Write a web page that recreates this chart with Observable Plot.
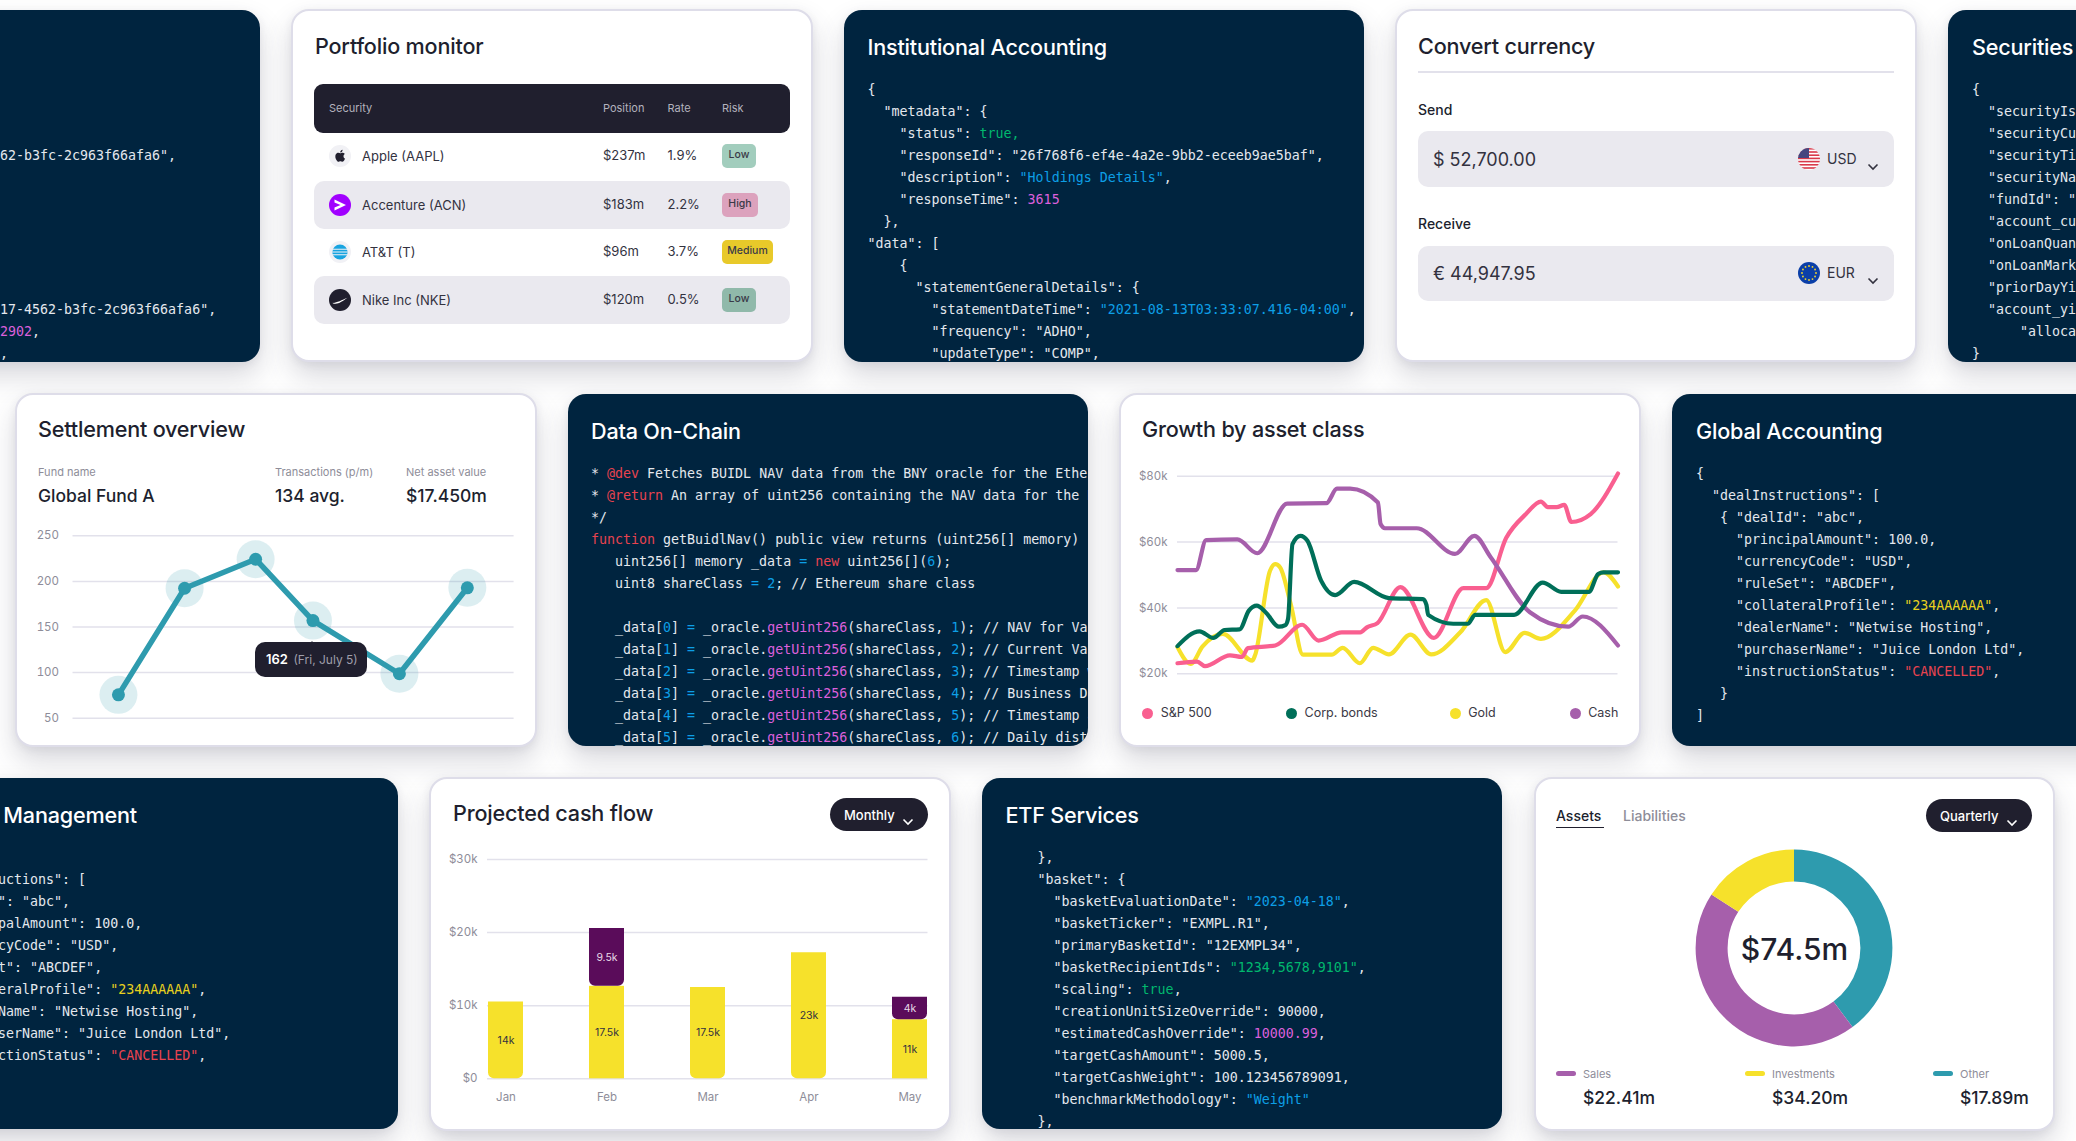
<!DOCTYPE html>
<html><head><meta charset="utf-8">
<script src="https://cdn.jsdelivr.net/npm/d3@7"></script>
<script src="https://cdn.jsdelivr.net/npm/@observablehq/plot@0.6"></script>
<style>
html,body{margin:0;padding:0;background:#fff;width:2076px;height:1141px;overflow:hidden}
#root{position:relative;width:2076px;height:1141px;overflow:hidden;font-family:Inter,"Noto Sans",sans-serif;color:#201f2e}
.card{position:absolute;box-sizing:border-box;border-radius:18px;overflow:hidden;box-shadow:0 14px 28px rgba(60,60,85,.20),0 2px 8px rgba(60,60,85,.08)}
.light{background:#fff;border:2px solid #dedde9}
.dark{background:#00243f}
.t{position:absolute;white-space:nowrap;line-height:1}
.box{position:absolute}
pre.code{position:absolute;margin:0;font:13.3px/22px "DejaVu Sans Mono",monospace;color:#e4e8ee;white-space:pre}
x-r{color:#e8434f}x-b{color:#0d9fe6}x-p{color:#dc60dc}x-g{color:#00b86e}x-y{color:#e8d01e}
svg{overflow:visible}
</style></head><body><div id="root"></div>
<script>
// ---------- data ----------
const settleDay = [10.3, 25.3, 41.4, 54.4, 74, 89.4];
const settleVal = [75.6, 192.5, 224.3, 157, 98.7, 193];
const settleTicks = [50, 100, 150, 200, 250];

const spX   = [0,4.46,6.24,11.9,14.6,16,22.2,28.3,32,37.3,41.5,43,45.4,50.6,58.2,64.9,70.1,74.6,79.1,82.5,84.1,86.1,87.8,89.4,93.8,100];
const spV   = [23.2,23.7,22.3,25.6,25.1,27.8,28.6,34.9,30.1,32.6,32.6,34.1,35.4,46.3,30.9,46,46,61.2,68.5,72.3,70.6,70.6,71.3,66.1,68.5,80.8];
const bondX = [0,5,8.1,10.7,14.1,16.2,18,20,23,24.5,25.1,26.1,27.9,29.5,32.6,35.8,40.1,48,55.7,56.5,56.9,62.6,65.9,67.6,76.4,82.9,87.1,93.4,95.5,96.7,100];
const bondV = [28.4,32.9,30.9,33.3,33.5,39.2,40.7,38.7,34.3,34.8,36.7,59.4,61.9,60.4,48.3,43.9,47.9,43,42.7,41,37.9,35.2,35.2,37.9,37.9,47.7,44.9,44.9,50.3,50.8,50.8];
const goldX = [0,3,5.7,10.3,17,17.6,21,22.2,23.3,25.7,28.5,35,37.5,41.4,44.4,48,52.9,57.6,64.2,70.1,74.4,78.8,82.5,90.2,96.7,100];
const goldV = [28.1,23,28.3,32.1,24,25.6,51.3,53.3,52.3,41.2,25.8,25.8,27.9,23.2,27.9,25.9,31.9,25.9,32.6,42.4,26.6,32.4,30.6,39.2,50.8,46.5];
const cashX = [0,4.2,6.5,13.6,18.1,24.9,33.8,36.2,39.2,45.5,46.1,47.1,54.3,63,67.4,71.1,80,88.7,92,100];
const cashV = [51.5,51.5,60.6,60.8,56.6,71.7,71.8,76.2,76.2,72,65.5,64.2,64.2,56.4,61.9,55.4,38.7,34.3,37.4,28.6];
const growthTicks = [20, 40, 60, 80];

const months = ["Jan","Feb","Mar","Apr","May"];
const flowYellow = [10.5, 12.65, 12.5, 17.26, 8.08];
const flowPurple = [0, 7.9, 0, 0, 3.06];
const flowYellowLabel = ["14k","17.5k","17.5k","23k","11k"];
const flowPurpleLabel = ["","9.5k","","","4k"];
const flowTicks = [0, 10, 20, 30];

const sliceNames = ["Other","Sales","Investments"];
const sliceValues = [29.7, 33.0, 11.8];
const sliceColors = ["#2e9bae","#a65fab","#f6e12b"];

const securities = ["Apple (AAPL)","Accenture (ACN)","AT&T (T)","Nike Inc (NKE)"];
const positions = ["$237m","$183m","$96m","$120m"];
const rates = ["1.9%","2.2%","3.7%","0.5%"];
const risks = ["Low","High","Medium","Low"];

const codeLeft = `


62-b3fc-2c963f66afa6",






17-4562-b3fc-2c963f66afa6",
<x-p>2902</x-p>,
,`;
const codeInstitutional = `{
  "metadata": {
    "status": <x-g>true,</x-g>
    "responseId": "26f768f6-ef4e-4a2e-9bb2-eceeb9ae5baf",
    "description": <x-b>"Holdings Details"</x-b>,
    "responseTime": <x-p>3615</x-p>
  },
"data": [
    {
      "statementGeneralDetails": {
        "statementDateTime": <x-b>"2021-08-13T03:33:07.416-04:00"</x-b>,
        "frequency": "ADHO",
        "updateType": "COMP",`;
const codeSecurities = `{
  "securityIsin
  "securityCusip
  "securityTicker
  "securityName
  "fundId": "
  "account_cust
  "onLoanQuant
  "onLoanMarket
  "priorDayYield
  "account_yield
      "allocation
}`;
const codeChain = `* <x-r>@dev</x-r> Fetches BUIDL NAV data from the BNY oracle for the Ethereum
* <x-r>@return</x-r> An array of uint256 containing the NAV data for the BUIDL
*/
<x-r>function</x-r> getBuidlNav() public view returns (uint256[] memory) {
   uint256[] memory _data <x-b>=</x-b> <x-r>new</x-r> uint256[](<x-b>6</x-b>);
   uint8 shareClass <x-b>=</x-b> <x-b>2</x-b>; // Ethereum share class

   _data[<x-b>0</x-b>] <x-b>=</x-b> _oracle.<x-p>getUint256</x-p>(shareClass, <x-b>1</x-b>); // NAV for Value
   _data[<x-b>1</x-b>] <x-b>=</x-b> _oracle.<x-p>getUint256</x-p>(shareClass, <x-b>2</x-b>); // Current Value
   _data[<x-b>2</x-b>] <x-b>=</x-b> _oracle.<x-p>getUint256</x-p>(shareClass, <x-b>3</x-b>); // Timestamp when
   _data[<x-b>3</x-b>] <x-b>=</x-b> _oracle.<x-p>getUint256</x-p>(shareClass, <x-b>4</x-b>); // Business Date
   _data[<x-b>4</x-b>] <x-b>=</x-b> _oracle.<x-p>getUint256</x-p>(shareClass, <x-b>5</x-b>); // Timestamp at
   _data[<x-b>5</x-b>] <x-b>=</x-b> _oracle.<x-p>getUint256</x-p>(shareClass, <x-b>6</x-b>); // Daily dist`;
const codeDeal = `{
  "dealInstructions": [
   { "dealId": "abc",
     "principalAmount": 100.0,
     "currencyCode": "USD",
     "ruleSet": "ABCDEF",
     "collateralProfile": <x-y>"234AAAAAA"</x-y>,
     "dealerName": "Netwise Hosting",
     "purchaserName": "Juice London Ltd",
     "instructionStatus": <x-r>"CANCELLED"</x-r>,
   }
]`;
const codeEtf = `    },
    "basket": {
      "basketEvaluationDate": <x-b>"2023-04-18"</x-b>,
      "basketTicker": "EXMPL.R1",
      "primaryBasketId": "12EXMPL34",
      "basketRecipientIds": <x-g>"1234,5678,9101"</x-g>,
      "scaling": <x-g>true</x-g>,
      "creationUnitSizeOverride": 90000,
      "estimatedCashOverride": <x-p>10000.99</x-p>,
      "targetCashAmount": 5000.5,
      "targetCashWeight": 100.123456789091,
      "benchmarkMethodology": <x-b>"Weight"</x-b>
    },`;

// ---------- helpers ----------
const root = document.getElementById("root");
const INK = "#201f2e", GREY = "#8e8d99", PALE = "#eae9ef", RULE = "#e2e1eb";
const TITLE_SIZE = 21.6, FONT = 'Inter,"Noto Sans",sans-serif';

function txt(parent, x, cy, s, size, o = {}) {
  const d = document.createElement("div");
  d.className = "t";
  d.textContent = s;
  d.style.cssText = `left:${x}px;top:${cy - size / 2}px;font-size:${size}px;color:${o.color || INK};font-weight:${o.weight || 400};letter-spacing:${o.ls || 0}px`;
  parent.appendChild(d);
  return d;
}
function box(parent, x, y, w, h, bg, r = 0) {
  const d = document.createElement("div");
  d.className = "box";
  d.style.cssText = `left:${x}px;top:${y}px;width:${w}px;height:${h}px;background:${bg};border-radius:${r}px`;
  parent.appendChild(d);
  return d;
}
function card(x, y, w, h, kind) {
  const d = document.createElement("div");
  d.className = "card " + kind;
  d.style.cssText = `left:${x}px;top:${y}px;width:${w}px;height:${h}px`;
  root.appendChild(d);
  return d;
}
function darkCard(x, y, w, h, title, textX, code) {
  const c = card(x, y, w, h, "dark");
  if (title) txt(c, textX - x, 37.5, title, TITLE_SIZE, {color:"#fff", weight:500, ls:-.2});
  const p = document.createElement("pre");
  p.className = "code";
  p.style.left = (textX - x) + "px";
  p.style.top = "69px";
  p.innerHTML = code;
  c.appendChild(p);
}
function icon(x, y, w, h, inner) {
  const d = document.createElement("div");
  d.className = "box";
  d.style.cssText = `left:${x}px;top:${y}px;width:${w}px;height:${h}px`;
  d.innerHTML = inner;
  root.appendChild(d);
}
const chev = (x, y, c) => icon(x, y, 12, 8, `<svg width="12" height="8" viewBox="0 0 12 8"><path d="M1.5 1.5 6 6l4.5-4.5" fill="none" stroke="${c}" stroke-width="1.6"/></svg>`);
function pill(x, y, w, h, s, tx) {
  box(root, x, y, w, h, INK, h / 2);
  txt(root, tx, y + h / 2 + .5, s, 13, {color:"#fff", weight:500});
  chev(x + w - 26, y + h / 2 - 5, "#fff");
}
function mount(plot, x, y) {
  plot.style.position = "absolute";
  plot.style.left = x + "px";
  plot.style.top = y + "px";
  root.appendChild(plot);
  return plot;
}
const plotStyle = {background:"transparent", fontFamily:FONT, fontSize:"11.5px", color:GREY, overflow:"visible"};

// ---------- row 1 ----------
darkCard(-262, 10, 522, 352, "", 0, codeLeft);

card(291, 9, 522, 353, "light");
txt(root, 315, 46.5, "Portfolio monitor", TITLE_SIZE, {weight:500, ls:-.2});
box(root, 314, 84, 476, 49, INK, 9);
txt(root, 329, 108, "Security", 11, {color:"#b3b2bd"});
txt(root, 603, 108, "Position", 11, {color:"#b3b2bd"});
txt(root, 667.5, 108, "Rate", 11, {color:"#b3b2bd"});
txt(root, 722, 108, "Risk", 11, {color:"#b3b2bd"});
box(root, 314, 181, 476, 47.5, PALE, 10);
box(root, 314, 276, 476, 48, PALE, 10);
const rowY = [156, 204.5, 252, 300];
const riskBg = ["#a2cdbd","#dca2bd","#e8c92a","#90b9aa"];
const riskW = [34, 36, 51, 34];
securities.forEach((s, i) => {
  txt(root, 362, rowY[i] + .5, s, 13, {color:"#33323f"});
  txt(root, 603, rowY[i] - .5, positions[i], 13, {color:"#33323f"});
  txt(root, 667.5, rowY[i] - .5, rates[i], 13, {color:"#33323f"});
  box(root, 722, rowY[i] - 12, riskW[i], 24, riskBg[i], 5);
  const l = txt(root, 722, rowY[i] - .5, risks[i], 10.5, {color:"#3a3a48", weight:500});
  l.style.width = riskW[i] + "px"; l.style.textAlign = "center";
});
icon(329, 145, 22, 22, `<svg width="22" height="22" viewBox="0 0 22 22"><circle cx="11" cy="11" r="11" fill="#f1f1f5"/><g transform="translate(5.2 4.8) scale(.5)"><path fill="#201f2e" d="M12.152 6.896c-.948 0-2.415-1.078-3.96-1.04-2.04.027-3.91 1.183-4.961 3.014-2.117 3.675-.546 9.103 1.519 12.09 1.013 1.454 2.208 3.09 3.792 3.039 1.52-.065 2.09-.987 3.935-.987 1.831 0 2.35.987 3.96.948 1.637-.026 2.676-1.48 3.676-2.948 1.156-1.688 1.636-3.325 1.662-3.415-.039-.013-3.182-1.221-3.22-4.857-.026-3.04 2.48-4.494 2.597-4.559-1.429-2.09-3.623-2.324-4.39-2.376-2-.156-3.675 1.09-4.61 1.09zM15.53 3.83c.843-1.012 1.4-2.427 1.245-3.83-1.207.052-2.662.805-3.532 1.818-.78.896-1.454 2.338-1.273 3.714 1.338.104 2.715-.688 3.559-1.701"/></g></svg>`);
icon(329, 193.5, 22, 22, `<svg width="22" height="22" viewBox="0 0 22 22"><circle cx="11" cy="11" r="11" fill="#a100ff"/><path d="M5.5 5.5 17 11 5.5 16.5v-3l6-2.5-6-2.5z" fill="#fff"/></svg>`);
icon(329, 241, 22, 22, `<svg width="22" height="22" viewBox="0 0 22 22"><circle cx="11" cy="11" r="11" fill="#f1f1f5"/><circle cx="11" cy="11" r="7.6" fill="#18a4e0"/><path d="M3.5 8.2h15M3.2 11h15.6M3.6 13.8h14.8" stroke="#f1f1f5" stroke-width="1.1"/></svg>`);
icon(329, 289, 22, 22, `<svg width="22" height="22" viewBox="0 0 22 22"><circle cx="11" cy="11" r="11" fill="#201f2e"/><path d="M3.8 13.8c2.3.7 9-2.5 14.6-5-4.2 3-8.8 6.2-12 6-2 0-3-.4-2.6-1z" fill="#fff"/></svg>`);

darkCard(844, 10, 520, 352, "Institutional Accounting", 867.5, codeInstitutional);

card(1395, 9, 522, 353, "light");
txt(root, 1418, 46.5, "Convert currency", TITLE_SIZE, {weight:500, ls:-.2});
box(root, 1418, 71, 476, 1.5, RULE);
txt(root, 1418, 110, "Send", 14, {weight:500});
box(root, 1418, 131, 476, 56, PALE, 10);
txt(root, 1433, 160, "$ 52,700.00", 18, {color:"#33323f"});
txt(root, 1827, 159, "USD", 14, {color:"#33323f"});
chev(1867, 155, "#33323f");
txt(root, 1418, 224, "Receive", 14, {weight:500});
box(root, 1418, 246, 476, 55, PALE, 10);
txt(root, 1433, 274, "€ 44,947.95", 18, {color:"#33323f"});
txt(root, 1827, 273, "EUR", 14, {color:"#33323f"});
chev(1867, 269, "#33323f");
const stripes = [0,1,2,3,4,5,6].map(i => `<rect x="0" y="${i * 3.2}" width="22" height="1.6" fill="#d93a4b"/>`).join("");
icon(1798, 148, 22, 22, `<svg width="22" height="22" viewBox="0 0 22 22"><defs><clipPath id="cf"><circle cx="11" cy="11" r="11"/></clipPath></defs><g clip-path="url(#cf)"><rect width="22" height="22" fill="#fff"/>${stripes}<rect width="11" height="10" fill="#46467f"/></g></svg>`);
const stars = d3.range(12).map(i => `<circle cx="${11 + 7 * Math.sin(i * Math.PI / 6)}" cy="${11 - 7 * Math.cos(i * Math.PI / 6)}" r=".9" fill="#f6d92b"/>`).join("");
icon(1798, 262, 22, 22, `<svg width="22" height="22" viewBox="0 0 22 22"><circle cx="11" cy="11" r="11" fill="#0b3fa8"/>${stars}</svg>`);

darkCard(1948, 10, 522, 352, "Securities", 1972, codeSecurities);

// ---------- row 2 ----------
card(15, 393, 522, 354, "light");
txt(root, 38, 430, "Settlement overview", TITLE_SIZE, {weight:500, ls:-.2});
txt(root, 38, 472.5, "Fund name", 11, {color:GREY});
txt(root, 275, 472.5, "Transactions (p/m)", 11, {color:GREY});
txt(root, 406, 472.5, "Net asset value", 11, {color:GREY});
txt(root, 38, 496, "Global Fund A", 17.5, {weight:500});
txt(root, 275, 496, "134 avg.", 17.5, {weight:500});
txt(root, 406, 496, "$17.450m", 17.5, {weight:500});

const TEAL = "#2e9bae";
const settle = settleDay.map((d, i) => ({d, v: settleVal[i]}));
const settlePlot = mount(Plot.plot({
  width:522, height:217.7, marginLeft:57.5, marginRight:23.4, marginTop:15.3, marginBottom:20, style:plotStyle,
  x:{domain:[0,100], axis:null},
  y:{domain:[50,250], label:null},
  marks:[
    Plot.ruleY(settleTicks, {stroke:RULE, strokeWidth:1.5}),
    Plot.axisY({ticks:settleTicks, tickSize:0, tickPadding:14, label:null, fontSize:11.5}),
    Plot.dot(settle, {x:"d", y:"v", r:19, fill:TEAL, fillOpacity:.17}),
    Plot.line(settle, {x:"d", y:"v", stroke:TEAL, strokeWidth:5.5}),
    Plot.dot(settle, {x:"d", y:"v", r:6.5, fill:TEAL})
  ]
}), 15, 520);
{
  const px = 15 + settlePlot.scale("x").apply(settleDay[3]);
  const py = 520 + settlePlot.scale("y").apply(settleVal[3]);
  icon(px - 7, py + 14, 14, 9, `<svg width="14" height="9" viewBox="0 0 14 9"><path d="M7 0 14 9H0z" fill="${INK}"/></svg>`);
  box(root, px - 57, py + 22, 112, 35, INK, 10);
  txt(root, px - 46.5, py + 39.5, "162", 13, {color:"#fff", weight:600});
  txt(root, px - 19, py + 40, "(Fri, July 5)", 12, {color:"#9f9eaa"});
}

darkCard(568, 394, 520, 352, "Data On-Chain", 591, codeChain);

card(1119, 393, 522, 354, "light");
txt(root, 1142, 430, "Growth by asset class", TITLE_SIZE, {weight:500, ls:-.2});
const PINK = "#f95f90", GREEN = "#006f59", YELLOW = "#f6e12b", PURPLE = "#a65fab";
const zip = (xs, vs) => xs.map((x, i) => ({x, v: vs[i]}));
const growthLine = (xs, vs, c) => Plot.line(zip(xs, vs), {x:"x", y:"v", stroke:c, strokeWidth:4.2, curve:"monotone-x"});
mount(Plot.plot({
  width:522, height:233.3, marginLeft:58, marginRight:23.5, marginTop:15.7, marginBottom:20, style:plotStyle,
  x:{domain:[0,100], axis:null},
  y:{domain:[20,80], label:null},
  marks:[
    Plot.ruleY(growthTicks, {stroke:RULE, strokeWidth:1.5}),
    Plot.axisY({ticks:growthTicks, tickFormat:d => `$${d}k`, tickSize:0, tickPadding:10, label:null, fontSize:11.5}),
    growthLine(goldX, goldV, YELLOW),
    growthLine(spX, spV, PINK),
    growthLine(cashX, cashV, PURPLE),
    growthLine(bondX, bondV, GREEN)
  ]
}), 1119, 460);
const growthLegend = [["S&P 500", PINK, 1147.5], ["Corp. bonds", GREEN, 1291.4], ["Gold", YELLOW, 1455], ["Cash", PURPLE, 1575]];
growthLegend.forEach(([s, c, x]) => {
  box(root, x - 5.5, 707.5, 11, 11, c, 6);
  txt(root, x + 13.2, 713.5, s, 12.5, {color:"#3a3945"});
});

darkCard(1672, 394, 522, 352, "Global Accounting", 1696, codeDeal);

// ---------- row 3 ----------
darkCard(-124, 778, 522, 351, "Collateral Management", -98, codeDeal);

card(429, 777, 522, 354, "light");
txt(root, 453, 814, "Projected cash flow", TITLE_SIZE, {weight:500, ls:-.2});
pill(830, 798, 97.5, 33, "Monthly", 844);
const flow = months.map((m, i) => ({m, a: flowYellow[i], b: flowPurple[i], top: flowYellow[i] + flowPurple[i], la: flowYellowLabel[i], lb: flowPurpleLabel[i]}));
const stacked = flow.filter(d => d.b > 0), single = flow.filter(d => d.b === 0);
mount(Plot.plot({
  width:522, height:270.3, marginLeft:58, marginRight:23.5, marginTop:19, marginBottom:32, style:plotStyle,
  x:{domain:months, paddingInner:.655, paddingOuter:0, label:null},
  y:{domain:[0,30], label:null},
  marks:[
    Plot.ruleY(flowTicks, {y:d => d, stroke:RULE, strokeWidth:1.5}),
    Plot.axisY({ticks:flowTicks, tickFormat:d => `$${d}${d ? "k" : ""}`, tickSize:0, tickPadding:10, label:null, fontSize:11.5}),
    Plot.axisX({tickSize:0, tickPadding:14, label:null, fontSize:11.5}),
    Plot.barY(single, {x:"m", y1:0, y2:"a", fill:YELLOW, ry2:6}),
    Plot.barY(stacked, {x:"m", y1:0, y2:"a", fill:YELLOW}),
    Plot.barY(stacked, {x:"m", y1:"a", y2:"top", fill:"#5a0c5a", ry2:6}),
    Plot.text(flow, {x:"m", y:d => d.a / 2, text:"la", fontSize:10.5, fill:"#33323f"}),
    Plot.text(stacked, {x:"m", y:d => d.a + d.b / 2, text:"lb", fontSize:10.5, fill:"#e8dbe8"})
  ]
}), 429, 840);

darkCard(982, 778, 520, 351, "ETF Services", 1005.5, codeEtf);

card(1533.5, 777, 521, 354, "light");
txt(root, 1556, 816, "Assets", 14, {weight:500});
box(root, 1556, 826.5, 48, 1.5, INK);
txt(root, 1623, 816, "Liabilities", 14, {color:GREY, weight:500});
pill(1926, 799, 105.7, 33, "Quarterly", 1940);
const slices = sliceNames.map((name, i) => ({name, value: sliceValues[i]}));
mount(Plot.plot({
  width:220, height:220, margin:0, style:{...plotStyle, color:INK},
  x:{domain:[0, d3.sum(sliceValues)], range:[0, 2 * Math.PI], axis:null},
  color:{domain:sliceNames, range:sliceColors},
  marks:[
    Plot.barX(slices, Plot.stackX({x:"value", fill:"name", order:null,
      render(index, scales, values, dim) {
        const arc = d3.arc().innerRadius(66.4).outerRadius(98.4);
        const g = d3.create("svg:g").attr("transform", `translate(${dim.width / 2},${dim.height / 2})`);
        for (const i of index) g.append("path").attr("fill", values.fill[i]).attr("d", arc({startAngle: values.x1[i], endAngle: values.x2[i]}));
        return g.node();
      }})),
    Plot.text(["$74.5m"], {frameAnchor:"middle", fontSize:30, fontWeight:500, fill:INK, dy:2})
  ]
}), 1684, 838.3);
const donutLegend = [["Sales","$22.41m","#a65fab",1556,1583],["Investments","$34.20m","#f6e12b",1744.5,1772],["Other","$17.89m","#2e9bae",1933,1960]];
donutLegend.forEach(([n, v, c, sx, tx]) => {
  box(root, sx, 1070.5, 20, 5, c, 3);
  txt(root, tx, 1074, n, 11, {color:GREY});
  txt(root, tx, 1097.5, v, 17.5, {weight:500});
});
</script></body></html>
